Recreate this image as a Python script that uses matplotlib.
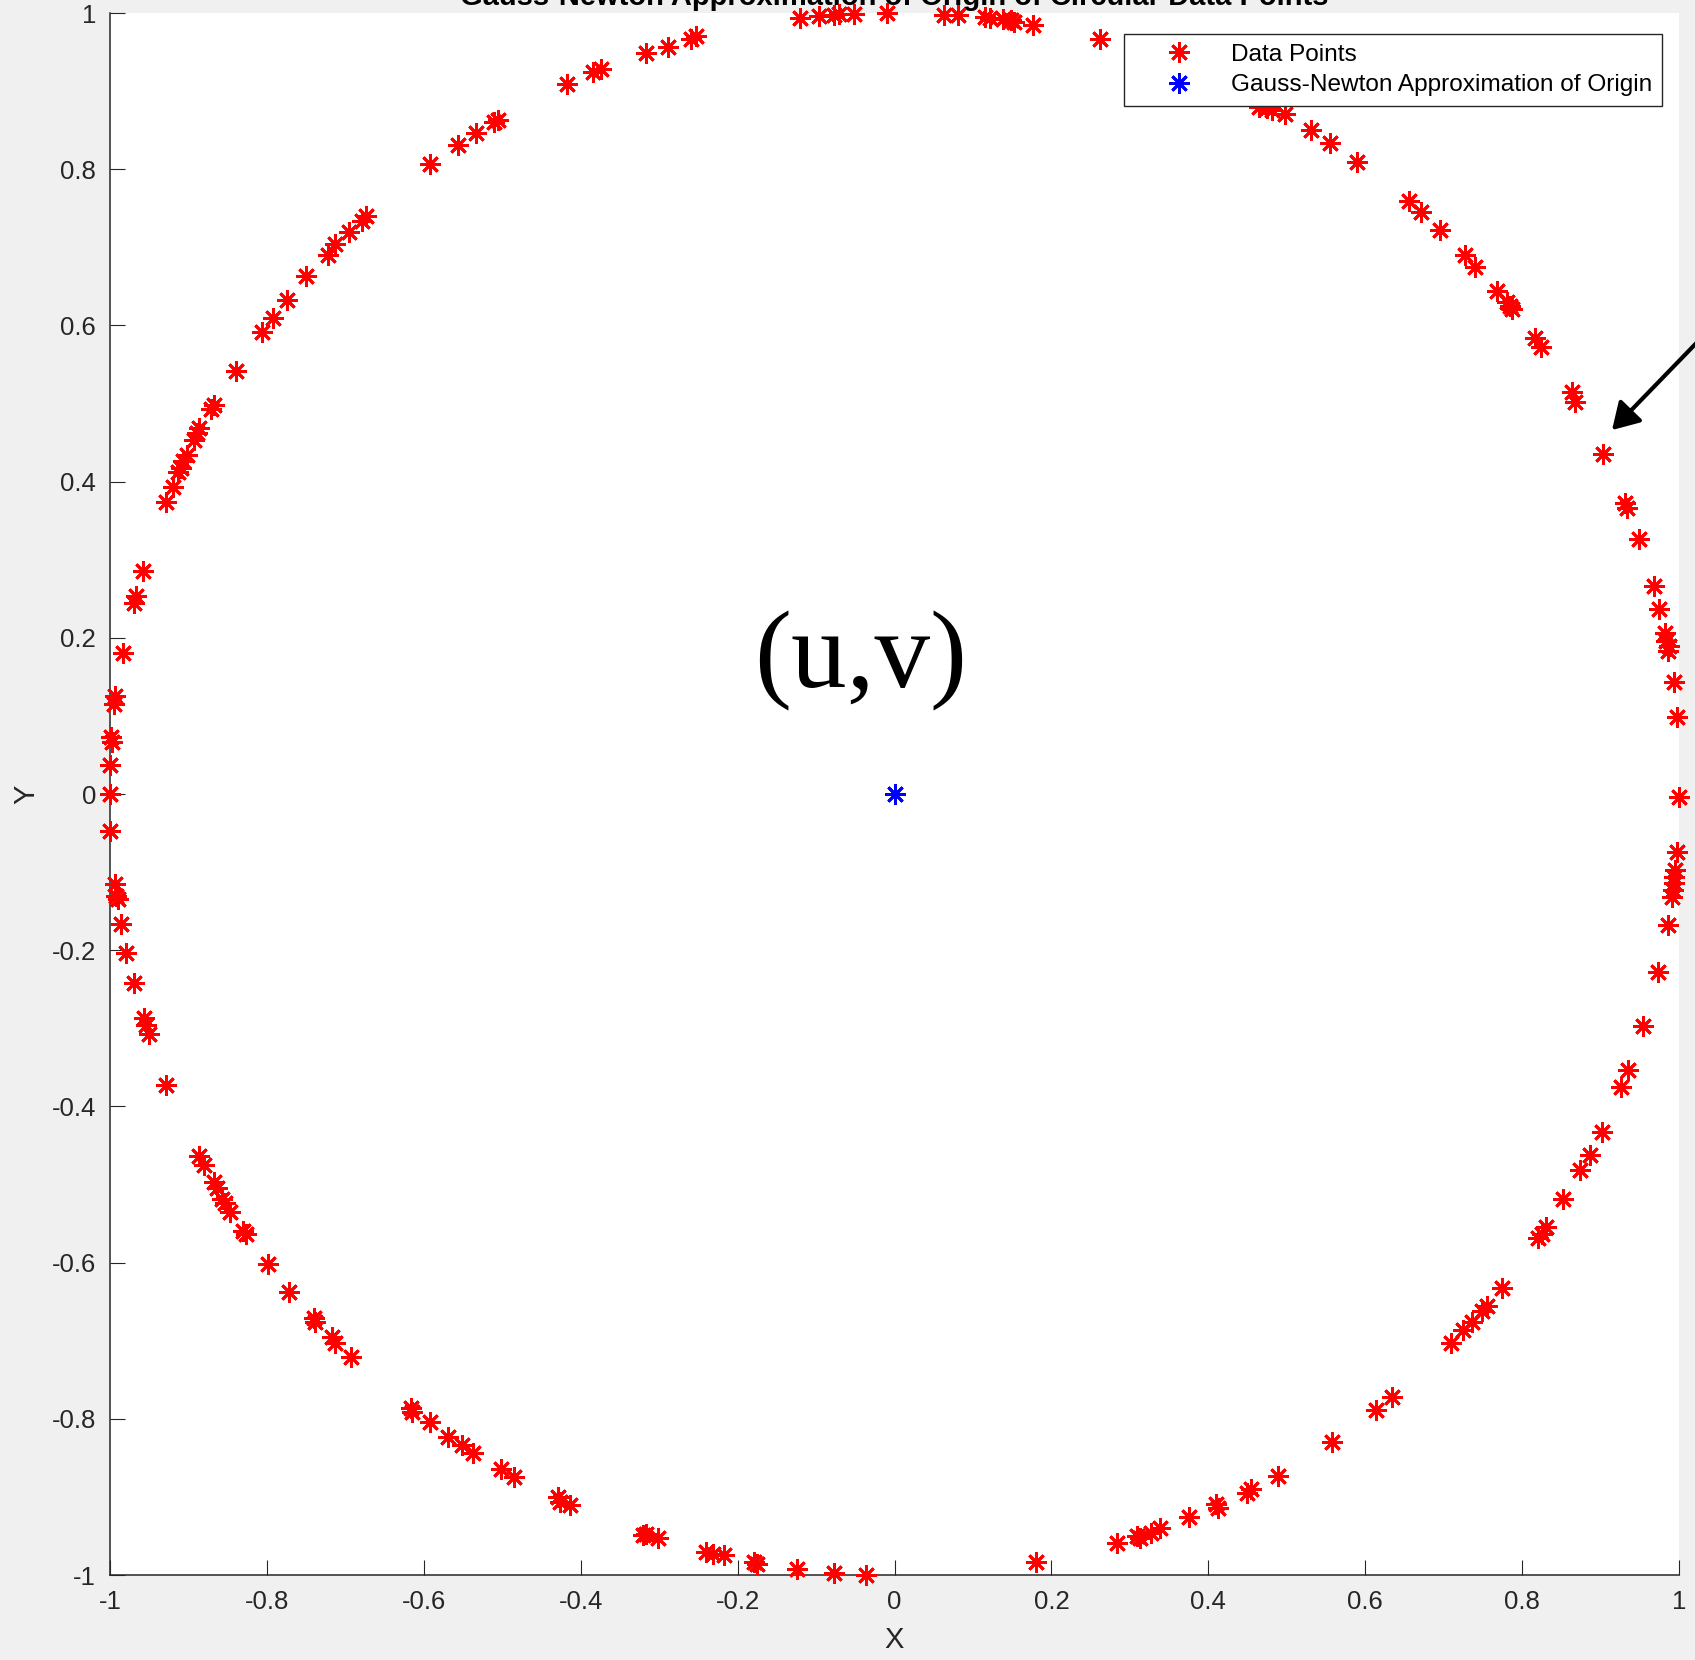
import matplotlib
matplotlib.use("Agg")
import matplotlib.pyplot as plt

# ---------------- data ----------------
data_x = [
    -0.121, -0.0965, -0.077, -0.0705, -0.051, -0.010, -0.259, -0.253, -0.2885, -0.3164,
    -0.384, -0.374, -0.418, -0.506, -0.511, -0.534, -0.556, -0.592, -0.674, -0.679,
    -0.695, -0.713, -0.722, -0.750, -0.774, -0.792, -0.806, -0.840, -0.867, -0.871,
    -0.886, -0.889, -0.8935, -0.902, -0.9065, -0.910, -0.913, -0.9195, -0.929,
    -0.958, -0.967, -0.970, -0.984, -0.993, -0.9955, -0.999, -0.998, -1.0, -1.0,
    -1.0, -0.994, -0.992, -0.990, -0.986, -0.979, -0.970, -0.957, -0.9535, -0.950,
    -0.928,
    -0.886, -0.880, -0.867, -0.8637, -0.857, -0.854, -0.847, -0.830, -0.8267, -0.7987,
    -0.7714, -0.740, -0.739, -0.7175, -0.713, -0.6934, -0.6167, -0.6148, -0.592, -0.5693,
    -0.5517, -0.5374, -0.501, -0.4854, -0.4295, -0.4263, -0.414, -0.321, -0.3164, -0.3015,
    -0.2397, -0.2313, -0.217, -0.1793, -0.1747, -0.124, -0.0772, -0.0369,
    0.1808, 0.2834, 0.3097, 0.313, 0.3274, 0.339, 0.3754, 0.4096, 0.4129, 0.449,
    0.454, 0.4885, 0.5575, 0.6134, 0.6345, 0.710, 0.7252, 0.7364, 0.7495, 0.7548,
    0.7745, 0.8205, 0.8258, 0.830, 0.852, 0.8744, 0.8863, 0.9014, 0.9257, 0.9356,
    0.9547, 0.9737, 0.986, 0.991, 0.992, 0.993, 0.994, 0.995, 0.997, 1.0,
    0.998, 0.993, 0.987, 0.986, 0.984, 0.982, 0.974, 0.9676,
    0.9489, 0.9337, 0.931, 0.9027, 0.868, 0.8632, 0.8238, 0.8159, 0.7875, 0.7843,
    0.781, 0.7678, 0.7402, 0.7269, 0.6953, 0.6709, 0.6558, 0.590, 0.5557, 0.5307,
    0.4978, 0.4813, 0.4747, 0.4648, 0.2625, 0.177, 0.152, 0.1487, 0.1389, 0.1223,
    0.1158, 0.0808, 0.0631,
]
data_y = [
    0.993, 0.9966, 0.998, 0.9985, 0.999, 1.0, 0.967, 0.970, 0.957, 0.949,
    0.925, 0.928, 0.909, 0.863, 0.860, 0.846, 0.831, 0.807, 0.740, 0.734,
    0.720, 0.704, 0.690, 0.663, 0.632, 0.610, 0.591, 0.542, 0.498, 0.4935,
    0.469, 0.4616, 0.4533, 0.4346, 0.427, 0.417, 0.4125, 0.393, 0.374,
    0.2856, 0.253, 0.245, 0.181, 0.126, 0.115, 0.073, 0.0666, 0.0375, 0.0,
    -0.0474, -0.115, -0.130, -0.1345, -0.167, -0.204, -0.242, -0.2865, -0.2954, -0.3075,
    -0.373,
    -0.463, -0.4745, -0.4974, -0.505, -0.519, -0.5234, -0.535, -0.560, -0.563, -0.602,
    -0.6377, -0.671, -0.6755, -0.695, -0.703, -0.7214, -0.7863, -0.791, -0.8046, -0.823,
    -0.834, -0.8434, -0.864, -0.874, -0.9006, -0.9065, -0.911, -0.9486, -0.947, -0.953,
    -0.970, -0.9728, -0.975, -0.9838, -0.9865, -0.992, -0.9975, -0.9998,
    -0.9838, -0.9586, -0.950, -0.953, -0.946, -0.9403, -0.9257, -0.9097, -0.914, -0.895,
    -0.8905, -0.873, -0.8297, -0.7886, -0.7726, -0.703, -0.6866, -0.6766, -0.662, -0.656,
    -0.632, -0.569, -0.563, -0.555, -0.518, -0.4814, -0.4626, -0.4334, -0.3758, -0.353,
    -0.2976, -0.228, -0.1674, -0.1314, -0.1224, -0.1145, -0.1068, -0.0978, -0.0739, -0.004,
    0.0985, 0.1434, 0.1896, 0.183, 0.1955, 0.2063, 0.2369, 0.266,
    0.3265, 0.3667, 0.373, 0.4357, 0.5019, 0.5151, 0.5725, 0.5837, 0.6205, 0.6253,
    0.6303, 0.644, 0.6754, 0.690, 0.7224, 0.7454, 0.7592, 0.8092, 0.8337, 0.8498,
    0.8704, 0.8753, 0.8778, 0.880, 0.967, 0.9846, 0.988, 0.9905, 0.992, 0.9939,
    0.9954, 0.9978, 0.9978,
]
origin_x = [0.0]
origin_y = [0.0]

tick_values = [-1, -0.8, -0.6, -0.4, -0.2, 0, 0.2, 0.4, 0.6, 0.8, 1]
tick_labels = ['-1', '-0.8', '-0.6', '-0.4', '-0.2', '0', '0.2', '0.4', '0.6', '0.8', '1']

title_text = "Gauss-Newton Approximation of Origin of Circular Data Points"
series_labels = ["Data Points", "Gauss-Newton Approximation of Origin"]
annot_text = "(u,v)"
annot_pos = (-0.043, 0.17)
arrow_tip = (0.9146, 0.466)
arrow_tail = (1.07, 0.627)

# ---------------- style ----------------
plt.rcParams['font.family'] = ['Liberation Sans', 'DejaVu Sans']
W, H = 1695, 1660
fig = plt.figure(figsize=(W / 100, H / 100), dpi=100, facecolor='#f0f0f0')
ax = fig.add_axes([110 / W, 1 - 1575 / H, 1569 / W, 1562 / H])
ax.set_facecolor('white')

dark = '#262626'
ast = (8, 2, 0)
ax.plot(data_x, data_y, linestyle='none', marker=ast, markersize=14.5, markeredgewidth=2.0,
        color='red', clip_on=False, label=series_labels[0], zorder=5)
ax.plot(origin_x, origin_y, linestyle='none', marker=ast, markersize=14.5, markeredgewidth=2.0,
        color='blue', clip_on=False, label=series_labels[1], zorder=5)

ax.set_xlim(-1, 1)
ax.set_ylim(-1, 1)
ax.set_xticks(tick_values)
ax.set_xticklabels(tick_labels)
ax.set_yticks(tick_values)
ax.set_yticklabels(tick_labels)
ax.tick_params(direction='in', length=10.8, width=0.8, colors=dark, labelsize=18.5)
ax.tick_params(axis='x', pad=11)
ax.tick_params(axis='y', pad=10)
for s in ['top', 'right']:
    ax.spines[s].set_visible(False)
for s in ['left', 'bottom']:
    ax.spines[s].set_color(dark)
    ax.spines[s].set_linewidth(1.1)

ax.set_xlabel('X', fontsize=21, color=dark)
ax.xaxis.set_label_coords(0.5, (1575 - 1640) / 1562)
ax.xaxis.label.set_va('center')
ax.set_ylabel('Y', fontsize=21, color=dark)
ax.yaxis.set_label_coords((26 - 110) / 1569, 0.5)
ax.yaxis.label.set_va('center')

ax.set_title(title_text, fontsize=21, fontweight='bold', y=(1575 - 5) / 1562, pad=0, va='baseline')

ax.text(annot_pos[0], annot_pos[1], annot_text, fontsize=80, family=['Liberation Serif', 'DejaVu Serif'],
        ha='center', va='center', color='black')

ax.annotate('', xy=arrow_tip, xytext=arrow_tail, annotation_clip=False,
            arrowprops=dict(arrowstyle='-|>,head_length=0.4,head_width=0.24', color='black',
                            lw=3, mutation_scale=40, shrinkA=0, shrinkB=0))

leg = ax.legend(loc='upper right', bbox_to_anchor=(1662 / W, 1 - 34 / H), bbox_transform=fig.transFigure,
                borderaxespad=0, fontsize=17.6, frameon=True, fancybox=False, framealpha=1,
                edgecolor=dark, handlelength=3.65, handletextpad=0.31, labelspacing=0.34, borderpad=0.4,
                numpoints=1)
leg.get_frame().set_linewidth(1.0)
leg.set_zorder(10)

fig.savefig('out.png', dpi=100, facecolor=fig.get_facecolor())
